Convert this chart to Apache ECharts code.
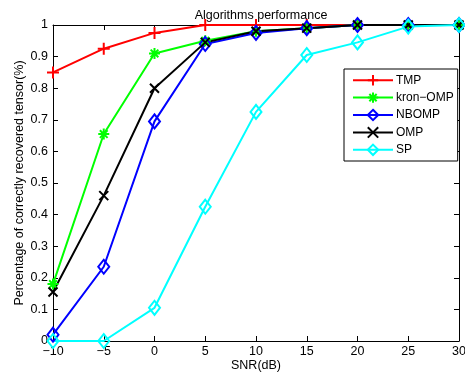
<!DOCTYPE html>
<html>
<head>
<meta charset="utf-8">
<script src="https://cdn.jsdelivr.net/npm/echarts@6/dist/echarts.min.js"></script>
<style>
  html, body { margin: 0; padding: 0; background: #fff; }
  #chart { width: 465px; height: 374px; }
</style>
</head>
<body>
<div id="chart"></div>
<script>
var snr = [-10, -5, 0, 5, 10, 15, 20, 25, 30];
var tmp = [0.85, 0.925, 0.975, 1, 1, 1, 1, 1, 1];
var kronOmp = [0.18, 0.655, 0.91, 0.95, 0.98, 0.99, 1, 1, 1];
var nbomp = [0.02, 0.235, 0.695, 0.94, 0.975, 0.99, 1, 1, 1];
var omp = [0.155, 0.46, 0.80, 0.945, 0.98, 0.99, 1, 1, 1];
var sp = [0, 0, 0.105, 0.425, 0.725, 0.905, 0.945, 0.995, 1];

var font = "Liberation Sans, Arial, sans-serif";
var plus = "path://M5,0L5,10M0,5L10,5";
var cross = "path://M0,0L10,10M10,0L0,10";
var star = "path://M5,0L5,10M0,5L10,5M1.5,1.5L8.5,8.5M8.5,1.5L1.5,8.5";

function pairs(v) {
    return snr.map(function (x, i) { return [x, v[i]]; });
}

function line(name, data, color, symbol, size) {
    return {
        name: name,
        type: "line",
        data: pairs(data),
        symbol: symbol,
        symbolSize: size,
        showAllSymbol: true,
        xAxisIndex: 0,
        yAxisIndex: 0,
        lineStyle: { color: color, width: 2 },
        itemStyle: { color: "transparent", borderColor: color, borderWidth: 2 },
        emphasis: { disabled: true },
        animation: false,
        clip: false
    };
}

var chart = echarts.init(document.getElementById("chart"));
var axisLine = { show: true, onZero: false, lineStyle: { color: "#000", width: 1 } };
var axisTick = { show: true, inside: true, length: 5, lineStyle: { color: "#000" } };

chart.setOption({
    backgroundColor: "#fff",
    title: {
        text: "Algorithms performance",
        left: 256,
        textAlign: "center",
        top: 4,
        textStyle: { fontFamily: font, fontSize: 12.5, fontWeight: "normal", color: "#000" }
    },
    grid: { left: 53, right: 6, top: 25, bottom: 33, outerBoundsMode: "none" },
    legend: {
        orient: "vertical",
        left: 344,
        top: 69,
        padding: [5, 4, 5, 8],
        itemWidth: 40,
        itemHeight: 13,
        itemGap: 5,
        backgroundColor: "#fff",
        borderColor: "#000",
        borderWidth: 1,
        textStyle: { fontFamily: font, fontSize: 12, color: "#000", padding: [0, 0, 0, -2] },
        data: ["TMP", "kron\u2212OMP", "NBOMP", "OMP", "SP"]
    },
    xAxis: [{
        type: "value", min: -10, max: 30, interval: 5,
        name: "SNR(dB)", nameLocation: "middle", nameGap: 18, nameMoveOverlap: false,
        nameTextStyle: { fontFamily: font, fontSize: 12.5, color: "#000" },
        axisLine: axisLine, axisTick: axisTick,
        axisLabel: {
            fontFamily: font, fontSize: 12.5, color: "#000", margin: 4,
            formatter: function (v) { return String(v).replace("-", "\u2212"); }
        },
        splitLine: { show: false }
    }, {
        type: "value", min: -10, max: 30, interval: 5, position: "top",
        axisLine: axisLine, axisTick: axisTick,
        axisLabel: { show: false }, splitLine: { show: false }
    }],
    yAxis: [{
        type: "value", min: 0, max: 1, interval: 0.1,
        name: "Percentage of correctly recovered tensor(%)", nameLocation: "middle", nameGap: 27,
        nameMoveOverlap: false,
        nameTextStyle: { fontFamily: font, fontSize: 12.5, color: "#000" },
        axisLine: axisLine, axisTick: axisTick,
        axisLabel: {
            fontFamily: font, fontSize: 12.5, color: "#000", margin: 5,
            formatter: function (v) { return String(Math.round(v * 10) / 10); }
        },
        splitLine: { show: false }
    }, {
        type: "value", min: 0, max: 1, interval: 0.1, position: "right",
        axisLine: axisLine, axisTick: axisTick,
        axisLabel: { show: false }, splitLine: { show: false }
    }],
    series: [
        line("TMP", tmp, "#ff0000", plus, 12),
        line("kron\u2212OMP", kronOmp, "#00ff00", star, 11),
        line("NBOMP", nbomp, "#0000ff", "diamond", [11, 14]),
        line("OMP", omp, "#000000", cross, 9),
        line("SP", sp, "#00ffff", "diamond", [11, 14])
    ]
});
</script>
</body>
</html>
